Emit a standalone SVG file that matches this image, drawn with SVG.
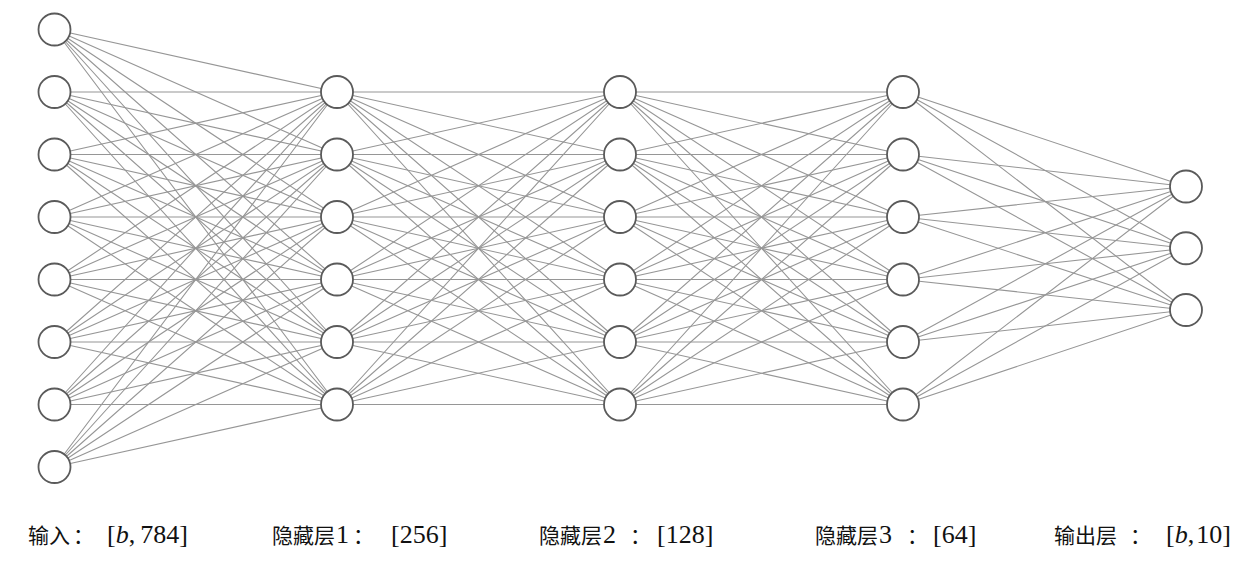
<svg xmlns="http://www.w3.org/2000/svg" width="1244" height="564" viewBox="0 0 1244 564">
<style>
.edge{fill:none;stroke:#969696;stroke-width:1.1}
.node{fill:#ffffff;stroke:#5a5a5a;stroke-width:1.8}
.cjk{font-family:"Noto Sans CJK SC","Noto Sans CJK JP",sans-serif;font-size:21px;fill:#111}
.num{font-family:"Liberation Serif",serif;font-size:26px;fill:#111}
.it{font-style:italic}
</style>
<rect width="1244" height="564" fill="#ffffff"/>
<g id="connectors">
<path class="edge" d="M54.5 29.5L337 92M54.5 29.5L337 154.5M54.5 29.5L337 217M54.5 29.5L337 279.5M54.5 29.5L337 342M54.5 29.5L337 404.5"/>
<path class="edge" d="M54.5 92L337 92M54.5 92L337 154.5M54.5 92L337 217M54.5 92L337 279.5M54.5 92L337 342M54.5 92L337 404.5"/>
<path class="edge" d="M54.5 154.5L337 92M54.5 154.5L337 154.5M54.5 154.5L337 217M54.5 154.5L337 279.5M54.5 154.5L337 342M54.5 154.5L337 404.5"/>
<path class="edge" d="M54.5 217L337 92M54.5 217L337 154.5M54.5 217L337 217M54.5 217L337 279.5M54.5 217L337 342M54.5 217L337 404.5"/>
<path class="edge" d="M54.5 279.5L337 92M54.5 279.5L337 154.5M54.5 279.5L337 217M54.5 279.5L337 279.5M54.5 279.5L337 342M54.5 279.5L337 404.5"/>
<path class="edge" d="M54.5 342L337 92M54.5 342L337 154.5M54.5 342L337 217M54.5 342L337 279.5M54.5 342L337 342M54.5 342L337 404.5"/>
<path class="edge" d="M54.5 404.5L337 92M54.5 404.5L337 154.5M54.5 404.5L337 217M54.5 404.5L337 279.5M54.5 404.5L337 342M54.5 404.5L337 404.5"/>
<path class="edge" d="M54.5 467L337 92M54.5 467L337 154.5M54.5 467L337 217M54.5 467L337 279.5M54.5 467L337 342M54.5 467L337 404.5"/>
<path class="edge" d="M337 92L620 92M337 92L620 154.5M337 92L620 217M337 92L620 279.5M337 92L620 342M337 92L620 404.5"/>
<path class="edge" d="M337 154.5L620 92M337 154.5L620 154.5M337 154.5L620 217M337 154.5L620 279.5M337 154.5L620 342M337 154.5L620 404.5"/>
<path class="edge" d="M337 217L620 92M337 217L620 154.5M337 217L620 217M337 217L620 279.5M337 217L620 342M337 217L620 404.5"/>
<path class="edge" d="M337 279.5L620 92M337 279.5L620 154.5M337 279.5L620 217M337 279.5L620 279.5M337 279.5L620 342M337 279.5L620 404.5"/>
<path class="edge" d="M337 342L620 92M337 342L620 154.5M337 342L620 217M337 342L620 279.5M337 342L620 342M337 342L620 404.5"/>
<path class="edge" d="M337 404.5L620 92M337 404.5L620 154.5M337 404.5L620 217M337 404.5L620 279.5M337 404.5L620 342M337 404.5L620 404.5"/>
<path class="edge" d="M620 92L903 92M620 92L903 154.5M620 92L903 217M620 92L903 279.5M620 92L903 342M620 92L903 404.5"/>
<path class="edge" d="M620 154.5L903 92M620 154.5L903 154.5M620 154.5L903 217M620 154.5L903 279.5M620 154.5L903 342M620 154.5L903 404.5"/>
<path class="edge" d="M620 217L903 92M620 217L903 154.5M620 217L903 217M620 217L903 279.5M620 217L903 342M620 217L903 404.5"/>
<path class="edge" d="M620 279.5L903 92M620 279.5L903 154.5M620 279.5L903 217M620 279.5L903 279.5M620 279.5L903 342M620 279.5L903 404.5"/>
<path class="edge" d="M620 342L903 92M620 342L903 154.5M620 342L903 217M620 342L903 279.5M620 342L903 342M620 342L903 404.5"/>
<path class="edge" d="M620 404.5L903 92M620 404.5L903 154.5M620 404.5L903 217M620 404.5L903 279.5M620 404.5L903 342M620 404.5L903 404.5"/>
<path class="edge" d="M903 92L1186 186.5M903 92L1186 248.25M903 92L1186 310"/>
<path class="edge" d="M903 154.5L1186 186.5M903 154.5L1186 248.25M903 154.5L1186 310"/>
<path class="edge" d="M903 217L1186 186.5M903 217L1186 248.25M903 217L1186 310"/>
<path class="edge" d="M903 279.5L1186 186.5M903 279.5L1186 248.25M903 279.5L1186 310"/>
<path class="edge" d="M903 342L1186 186.5M903 342L1186 248.25M903 342L1186 310"/>
<path class="edge" d="M903 404.5L1186 186.5M903 404.5L1186 248.25M903 404.5L1186 310"/>
</g>
<g id="input-layer">
<circle class="node" cx="54.5" cy="29.5" r="16"/>
<circle class="node" cx="54.5" cy="92" r="16"/>
<circle class="node" cx="54.5" cy="154.5" r="16"/>
<circle class="node" cx="54.5" cy="217" r="16"/>
<circle class="node" cx="54.5" cy="279.5" r="16"/>
<circle class="node" cx="54.5" cy="342" r="16"/>
<circle class="node" cx="54.5" cy="404.5" r="16"/>
<circle class="node" cx="54.5" cy="467" r="16"/>
<text class="cjk" x="28" y="543">输入<tspan x="73">：</tspan><tspan class="num" x="107">[<tspan class="it">b</tspan>,<tspan dx="5">784</tspan>]</tspan></text>
</g>
<g id="hidden-layer-1">
<circle class="node" cx="337" cy="92" r="16"/>
<circle class="node" cx="337" cy="154.5" r="16"/>
<circle class="node" cx="337" cy="217" r="16"/>
<circle class="node" cx="337" cy="279.5" r="16"/>
<circle class="node" cx="337" cy="342" r="16"/>
<circle class="node" cx="337" cy="404.5" r="16"/>
<text class="cjk" x="272" y="543">隐藏层<tspan class="num" x="336">1</tspan><tspan x="353">：</tspan><tspan class="num" x="391">[256]</tspan></text>
</g>
<g id="hidden-layer-2">
<circle class="node" cx="620" cy="92" r="16"/>
<circle class="node" cx="620" cy="154.5" r="16"/>
<circle class="node" cx="620" cy="217" r="16"/>
<circle class="node" cx="620" cy="279.5" r="16"/>
<circle class="node" cx="620" cy="342" r="16"/>
<circle class="node" cx="620" cy="404.5" r="16"/>
<text class="cjk" x="539" y="543">隐藏层<tspan class="num" x="603">2</tspan><tspan x="630">：</tspan><tspan class="num" x="657">[128]</tspan></text>
</g>
<g id="hidden-layer-3">
<circle class="node" cx="903" cy="92" r="16"/>
<circle class="node" cx="903" cy="154.5" r="16"/>
<circle class="node" cx="903" cy="217" r="16"/>
<circle class="node" cx="903" cy="279.5" r="16"/>
<circle class="node" cx="903" cy="342" r="16"/>
<circle class="node" cx="903" cy="404.5" r="16"/>
<text class="cjk" x="815" y="543">隐藏层<tspan class="num" x="879">3</tspan><tspan x="907">：</tspan><tspan class="num" x="933">[64]</tspan></text>
</g>
<g id="output-layer">
<circle class="node" cx="1186" cy="186.5" r="16"/>
<circle class="node" cx="1186" cy="248.25" r="16"/>
<circle class="node" cx="1186" cy="310" r="16"/>
<text class="cjk" x="1054" y="543">输出层<tspan x="1130">：</tspan><tspan class="num" x="1166">[<tspan class="it">b</tspan>,<tspan dx="2">10</tspan>]</tspan></text>
</g>
</svg>
